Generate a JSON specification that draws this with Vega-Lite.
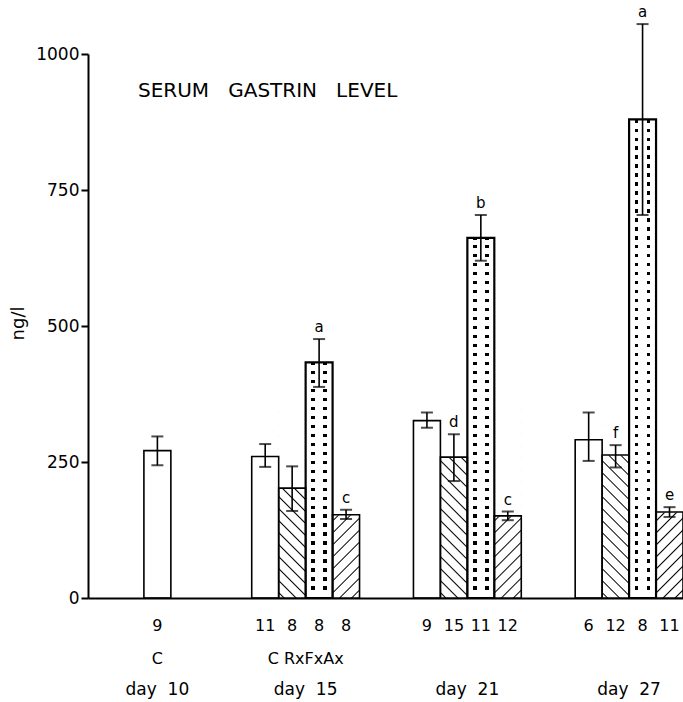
{
"$schema":"https://vega.github.io/schema/vega-lite/v6.json",
"width":595,"height":544,
"autosize":{"type":"none"},
"padding":{"left":88,"top":54,"right":0,"bottom":104},
"background":"white",
"config":{"view":{"stroke":null},"font":"DejaVu Sans","text":{"font":"DejaVu Sans","color":"black"},
"axisY":{"grid":false,"domainColor":"black","domainWidth":2,"tickColor":"black","tickWidth":2,"tickSize":7,"labelFont":"DejaVu Sans","labelFontSize":17,"labelColor":"black","labelPadding":2,"titleFont":"DejaVu Sans","titleFontSize":18,"titleFontWeight":"normal","titleColor":"black","titleAngle":-90,"titleX":-70,"titleY":269,"titleAlign":"center","titleBaseline":"middle"},
"axisX":{"grid":false,"labels":false,"ticks":false,"domainColor":"black","domainWidth":2}},
"title":{"text":"SERUM\u00a0\u00a0\u00a0GASTRIN\u00a0\u00a0\u00a0LEVEL","anchor":"start","frame":"group","orient":"top","offset":0,"dx":50,"dy":106,"fontSize":20,"fontWeight":"normal","font":"DejaVu Sans","color":"black","baseline":"middle"},
"data":{"values":[
{"id":"10C","grp":"C","mean":271,"lo":244,"hi":297,"n":"9","letter":""},
{"id":"15C","grp":"C","mean":260,"lo":241,"hi":283,"n":"11","letter":""},
{"id":"15Rx","grp":"Rx","mean":202,"lo":160,"hi":242,"n":"8","letter":""},
{"id":"15Fx","grp":"Fx","mean":433,"lo":388,"hi":476,"n":"8","letter":"a"},
{"id":"15Ax","grp":"Ax","mean":153,"lo":145,"hi":162,"n":"8","letter":"c"},
{"id":"21C","grp":"C","mean":326,"lo":313,"hi":341,"n":"9","letter":""},
{"id":"21Rx","grp":"Rx","mean":259,"lo":215,"hi":301,"n":"15","letter":"d"},
{"id":"21Fx","grp":"Fx","mean":662,"lo":620,"hi":704,"n":"11","letter":"b"},
{"id":"21Ax","grp":"Ax","mean":151,"lo":143,"hi":159,"n":"12","letter":"c"},
{"id":"27C","grp":"C","mean":291,"lo":252,"hi":341,"n":"6","letter":""},
{"id":"27Rx","grp":"Rx","mean":263,"lo":240,"hi":281,"n":"12","letter":"f"},
{"id":"27Fx","grp":"Fx","mean":880,"lo":704,"hi":1055,"n":"8","letter":"a"},
{"id":"27Ax","grp":"Ax","mean":158,"lo":149,"hi":167,"n":"11","letter":"e"}
]},
"encoding":{"x":{"field":"id","type":"nominal","title":null,
"scale":{"domain":["b0","b1","10C","b3","b4","b5","15C","15Rx","15Fx","15Ax","b10","b11","21C","21Rx","21Fx","21Ax","b16","b17","27C","27Rx","27Fx","27Ax"],"paddingInner":0,"paddingOuter":0.037,"align":1},
"axis":{"title":null,"labels":false,"ticks":false,"grid":false,"domainColor":"black","domainWidth":2}}},
"layer":[
{"mark":{"type":"bar","fillOpacity":0,"strokeWidth":0},
"encoding":{"y":{"field":"mean","type":"quantitative","title":"ng/l","scale":{"domain":[0,1000]},"axis":{"values":[0,250,500,750,1000],"format":"d","title":"ng/l"}}}},
{"transform":[{"filter":"datum.grp === 'Rx'"}],
"mark":{"type":"bar","fill":{"gradient":"linear","x1":0,"y1":1,"x2":0.1584,"y2":-0.1192,"stops":[
{"offset":0.0185,"color":"#fff"},{"offset":0.025,"color":"#000"},{"offset":0.0315,"color":"#fff"},
{"offset":0.0737,"color":"#fff"},{"offset":0.0802,"color":"#000"},{"offset":0.0867,"color":"#fff"},
{"offset":0.1289,"color":"#fff"},{"offset":0.1354,"color":"#000"},{"offset":0.1419,"color":"#fff"},
{"offset":0.1841,"color":"#fff"},{"offset":0.1906,"color":"#000"},{"offset":0.1971,"color":"#fff"},
{"offset":0.2393,"color":"#fff"},{"offset":0.2458,"color":"#000"},{"offset":0.2523,"color":"#fff"},
{"offset":0.2945,"color":"#fff"},{"offset":0.301,"color":"#000"},{"offset":0.3075,"color":"#fff"},
{"offset":0.3497,"color":"#fff"},{"offset":0.3562,"color":"#000"},{"offset":0.3627,"color":"#fff"},
{"offset":0.4049,"color":"#fff"},{"offset":0.4114,"color":"#000"},{"offset":0.4179,"color":"#fff"},
{"offset":0.4601,"color":"#fff"},{"offset":0.4666,"color":"#000"},{"offset":0.4731,"color":"#fff"},
{"offset":0.5153,"color":"#fff"},{"offset":0.5218,"color":"#000"},{"offset":0.5283,"color":"#fff"},
{"offset":0.5705,"color":"#fff"},{"offset":0.577,"color":"#000"},{"offset":0.5835,"color":"#fff"},
{"offset":0.6257,"color":"#fff"},{"offset":0.6322,"color":"#000"},{"offset":0.6387,"color":"#fff"},
{"offset":0.6809,"color":"#fff"},{"offset":0.6874,"color":"#000"},{"offset":0.6939,"color":"#fff"},
{"offset":0.7361,"color":"#fff"},{"offset":0.7426,"color":"#000"},{"offset":0.7491,"color":"#fff"},
{"offset":0.7913,"color":"#fff"},{"offset":0.7978,"color":"#000"},{"offset":0.8043,"color":"#fff"},
{"offset":0.8465,"color":"#fff"},{"offset":0.853,"color":"#000"},{"offset":0.8595,"color":"#fff"},
{"offset":0.9017,"color":"#fff"},{"offset":0.9082,"color":"#000"},{"offset":0.9147,"color":"#fff"},
{"offset":0.9569,"color":"#fff"},{"offset":0.9634,"color":"#000"},{"offset":0.9699,"color":"#fff"}]}},
"encoding":{"y":{"datum":0,"type":"quantitative","title":"ng/l","axis":{"values":[0,250,500,750,1000],"format":"d","title":"ng/l"}},"y2":{"datum":350}}},
{"transform":[{"filter":"datum.grp === 'Ax'"}],
"mark":{"type":"bar","fill":{"gradient":"linear","x1":0,"y1":0,"x2":0.1584,"y2":1.1192,"stops":[
{"offset":0.0185,"color":"#fff"},{"offset":0.025,"color":"#000"},{"offset":0.0315,"color":"#fff"},
{"offset":0.0737,"color":"#fff"},{"offset":0.0802,"color":"#000"},{"offset":0.0867,"color":"#fff"},
{"offset":0.1289,"color":"#fff"},{"offset":0.1354,"color":"#000"},{"offset":0.1419,"color":"#fff"},
{"offset":0.1841,"color":"#fff"},{"offset":0.1906,"color":"#000"},{"offset":0.1971,"color":"#fff"},
{"offset":0.2393,"color":"#fff"},{"offset":0.2458,"color":"#000"},{"offset":0.2523,"color":"#fff"},
{"offset":0.2945,"color":"#fff"},{"offset":0.301,"color":"#000"},{"offset":0.3075,"color":"#fff"},
{"offset":0.3497,"color":"#fff"},{"offset":0.3562,"color":"#000"},{"offset":0.3627,"color":"#fff"},
{"offset":0.4049,"color":"#fff"},{"offset":0.4114,"color":"#000"},{"offset":0.4179,"color":"#fff"},
{"offset":0.4601,"color":"#fff"},{"offset":0.4666,"color":"#000"},{"offset":0.4731,"color":"#fff"},
{"offset":0.5153,"color":"#fff"},{"offset":0.5218,"color":"#000"},{"offset":0.5283,"color":"#fff"},
{"offset":0.5705,"color":"#fff"},{"offset":0.577,"color":"#000"},{"offset":0.5835,"color":"#fff"},
{"offset":0.6257,"color":"#fff"},{"offset":0.6322,"color":"#000"},{"offset":0.6387,"color":"#fff"},
{"offset":0.6809,"color":"#fff"},{"offset":0.6874,"color":"#000"},{"offset":0.6939,"color":"#fff"},
{"offset":0.7361,"color":"#fff"},{"offset":0.7426,"color":"#000"},{"offset":0.7491,"color":"#fff"},
{"offset":0.7913,"color":"#fff"},{"offset":0.7978,"color":"#000"},{"offset":0.8043,"color":"#fff"},
{"offset":0.8465,"color":"#fff"},{"offset":0.853,"color":"#000"},{"offset":0.8595,"color":"#fff"},
{"offset":0.9017,"color":"#fff"},{"offset":0.9082,"color":"#000"},{"offset":0.9147,"color":"#fff"},
{"offset":0.9569,"color":"#fff"},{"offset":0.9634,"color":"#000"},{"offset":0.9699,"color":"#fff"}]}},
"encoding":{"y":{"datum":0,"type":"quantitative","title":"ng/l","axis":{"values":[0,250,500,750,1000],"format":"d","title":"ng/l"}},"y2":{"datum":350}}},
{"transform":[{"filter":"datum.grp === 'Fx'"}],
"mark":{"type":"bar","fill":{"gradient":"linear","x1":0,"y1":0,"x2":0,"y2":1,"stops":[
{"offset":0.005,"color":"#fff"},{"offset":0.005,"color":"#000"},{"offset":0.011,"color":"#000"},{"offset":0.011,"color":"#fff"},
{"offset":0.0215,"color":"#fff"},{"offset":0.0215,"color":"#000"},{"offset":0.0275,"color":"#000"},{"offset":0.0275,"color":"#fff"},
{"offset":0.038,"color":"#fff"},{"offset":0.038,"color":"#000"},{"offset":0.044,"color":"#000"},{"offset":0.044,"color":"#fff"},
{"offset":0.0545,"color":"#fff"},{"offset":0.0545,"color":"#000"},{"offset":0.0605,"color":"#000"},{"offset":0.0605,"color":"#fff"},
{"offset":0.071,"color":"#fff"},{"offset":0.071,"color":"#000"},{"offset":0.077,"color":"#000"},{"offset":0.077,"color":"#fff"},
{"offset":0.0875,"color":"#fff"},{"offset":0.0875,"color":"#000"},{"offset":0.0935,"color":"#000"},{"offset":0.0935,"color":"#fff"},
{"offset":0.104,"color":"#fff"},{"offset":0.104,"color":"#000"},{"offset":0.11,"color":"#000"},{"offset":0.11,"color":"#fff"},
{"offset":0.1205,"color":"#fff"},{"offset":0.1205,"color":"#000"},{"offset":0.1265,"color":"#000"},{"offset":0.1265,"color":"#fff"},
{"offset":0.137,"color":"#fff"},{"offset":0.137,"color":"#000"},{"offset":0.143,"color":"#000"},{"offset":0.143,"color":"#fff"},
{"offset":0.1535,"color":"#fff"},{"offset":0.1535,"color":"#000"},{"offset":0.1595,"color":"#000"},{"offset":0.1595,"color":"#fff"},
{"offset":0.17,"color":"#fff"},{"offset":0.17,"color":"#000"},{"offset":0.176,"color":"#000"},{"offset":0.176,"color":"#fff"},
{"offset":0.1865,"color":"#fff"},{"offset":0.1865,"color":"#000"},{"offset":0.1925,"color":"#000"},{"offset":0.1925,"color":"#fff"},
{"offset":0.203,"color":"#fff"},{"offset":0.203,"color":"#000"},{"offset":0.209,"color":"#000"},{"offset":0.209,"color":"#fff"},
{"offset":0.2195,"color":"#fff"},{"offset":0.2195,"color":"#000"},{"offset":0.2255,"color":"#000"},{"offset":0.2255,"color":"#fff"},
{"offset":0.236,"color":"#fff"},{"offset":0.236,"color":"#000"},{"offset":0.242,"color":"#000"},{"offset":0.242,"color":"#fff"},
{"offset":0.2525,"color":"#fff"},{"offset":0.2525,"color":"#000"},{"offset":0.2585,"color":"#000"},{"offset":0.2585,"color":"#fff"},
{"offset":0.269,"color":"#fff"},{"offset":0.269,"color":"#000"},{"offset":0.275,"color":"#000"},{"offset":0.275,"color":"#fff"},
{"offset":0.2855,"color":"#fff"},{"offset":0.2855,"color":"#000"},{"offset":0.2915,"color":"#000"},{"offset":0.2915,"color":"#fff"},
{"offset":0.302,"color":"#fff"},{"offset":0.302,"color":"#000"},{"offset":0.308,"color":"#000"},{"offset":0.308,"color":"#fff"},
{"offset":0.3185,"color":"#fff"},{"offset":0.3185,"color":"#000"},{"offset":0.3245,"color":"#000"},{"offset":0.3245,"color":"#fff"},
{"offset":0.335,"color":"#fff"},{"offset":0.335,"color":"#000"},{"offset":0.341,"color":"#000"},{"offset":0.341,"color":"#fff"},
{"offset":0.3515,"color":"#fff"},{"offset":0.3515,"color":"#000"},{"offset":0.3575,"color":"#000"},{"offset":0.3575,"color":"#fff"},
{"offset":0.368,"color":"#fff"},{"offset":0.368,"color":"#000"},{"offset":0.374,"color":"#000"},{"offset":0.374,"color":"#fff"},
{"offset":0.3845,"color":"#fff"},{"offset":0.3845,"color":"#000"},{"offset":0.3905,"color":"#000"},{"offset":0.3905,"color":"#fff"},
{"offset":0.401,"color":"#fff"},{"offset":0.401,"color":"#000"},{"offset":0.407,"color":"#000"},{"offset":0.407,"color":"#fff"},
{"offset":0.4175,"color":"#fff"},{"offset":0.4175,"color":"#000"},{"offset":0.4235,"color":"#000"},{"offset":0.4235,"color":"#fff"},
{"offset":0.434,"color":"#fff"},{"offset":0.434,"color":"#000"},{"offset":0.44,"color":"#000"},{"offset":0.44,"color":"#fff"},
{"offset":0.4505,"color":"#fff"},{"offset":0.4505,"color":"#000"},{"offset":0.4565,"color":"#000"},{"offset":0.4565,"color":"#fff"},
{"offset":0.467,"color":"#fff"},{"offset":0.467,"color":"#000"},{"offset":0.473,"color":"#000"},{"offset":0.473,"color":"#fff"},
{"offset":0.4835,"color":"#fff"},{"offset":0.4835,"color":"#000"},{"offset":0.4895,"color":"#000"},{"offset":0.4895,"color":"#fff"},
{"offset":0.5,"color":"#fff"},{"offset":0.5,"color":"#000"},{"offset":0.506,"color":"#000"},{"offset":0.506,"color":"#fff"},
{"offset":0.5165,"color":"#fff"},{"offset":0.5165,"color":"#000"},{"offset":0.5225,"color":"#000"},{"offset":0.5225,"color":"#fff"},
{"offset":0.533,"color":"#fff"},{"offset":0.533,"color":"#000"},{"offset":0.539,"color":"#000"},{"offset":0.539,"color":"#fff"},
{"offset":0.5495,"color":"#fff"},{"offset":0.5495,"color":"#000"},{"offset":0.5555,"color":"#000"},{"offset":0.5555,"color":"#fff"},
{"offset":0.566,"color":"#fff"},{"offset":0.566,"color":"#000"},{"offset":0.572,"color":"#000"},{"offset":0.572,"color":"#fff"},
{"offset":0.5825,"color":"#fff"},{"offset":0.5825,"color":"#000"},{"offset":0.5885,"color":"#000"},{"offset":0.5885,"color":"#fff"},
{"offset":0.599,"color":"#fff"},{"offset":0.599,"color":"#000"},{"offset":0.605,"color":"#000"},{"offset":0.605,"color":"#fff"},
{"offset":0.6155,"color":"#fff"},{"offset":0.6155,"color":"#000"},{"offset":0.6215,"color":"#000"},{"offset":0.6215,"color":"#fff"},
{"offset":0.632,"color":"#fff"},{"offset":0.632,"color":"#000"},{"offset":0.638,"color":"#000"},{"offset":0.638,"color":"#fff"},
{"offset":0.6485,"color":"#fff"},{"offset":0.6485,"color":"#000"},{"offset":0.6545,"color":"#000"},{"offset":0.6545,"color":"#fff"},
{"offset":0.665,"color":"#fff"},{"offset":0.665,"color":"#000"},{"offset":0.671,"color":"#000"},{"offset":0.671,"color":"#fff"},
{"offset":0.6815,"color":"#fff"},{"offset":0.6815,"color":"#000"},{"offset":0.6875,"color":"#000"},{"offset":0.6875,"color":"#fff"},
{"offset":0.698,"color":"#fff"},{"offset":0.698,"color":"#000"},{"offset":0.704,"color":"#000"},{"offset":0.704,"color":"#fff"},
{"offset":0.7145,"color":"#fff"},{"offset":0.7145,"color":"#000"},{"offset":0.7205,"color":"#000"},{"offset":0.7205,"color":"#fff"},
{"offset":0.731,"color":"#fff"},{"offset":0.731,"color":"#000"},{"offset":0.737,"color":"#000"},{"offset":0.737,"color":"#fff"},
{"offset":0.7475,"color":"#fff"},{"offset":0.7475,"color":"#000"},{"offset":0.7535,"color":"#000"},{"offset":0.7535,"color":"#fff"},
{"offset":0.764,"color":"#fff"},{"offset":0.764,"color":"#000"},{"offset":0.77,"color":"#000"},{"offset":0.77,"color":"#fff"},
{"offset":0.7805,"color":"#fff"},{"offset":0.7805,"color":"#000"},{"offset":0.7865,"color":"#000"},{"offset":0.7865,"color":"#fff"},
{"offset":0.797,"color":"#fff"},{"offset":0.797,"color":"#000"},{"offset":0.803,"color":"#000"},{"offset":0.803,"color":"#fff"},
{"offset":0.8135,"color":"#fff"},{"offset":0.8135,"color":"#000"},{"offset":0.8195,"color":"#000"},{"offset":0.8195,"color":"#fff"},
{"offset":0.83,"color":"#fff"},{"offset":0.83,"color":"#000"},{"offset":0.836,"color":"#000"},{"offset":0.836,"color":"#fff"},
{"offset":0.8465,"color":"#fff"},{"offset":0.8465,"color":"#000"},{"offset":0.8525,"color":"#000"},{"offset":0.8525,"color":"#fff"},
{"offset":0.863,"color":"#fff"},{"offset":0.863,"color":"#000"},{"offset":0.869,"color":"#000"},{"offset":0.869,"color":"#fff"},
{"offset":0.8795,"color":"#fff"},{"offset":0.8795,"color":"#000"},{"offset":0.8855,"color":"#000"},{"offset":0.8855,"color":"#fff"},
{"offset":0.896,"color":"#fff"},{"offset":0.896,"color":"#000"},{"offset":0.902,"color":"#000"},{"offset":0.902,"color":"#fff"},
{"offset":0.9125,"color":"#fff"},{"offset":0.9125,"color":"#000"},{"offset":0.9185,"color":"#000"},{"offset":0.9185,"color":"#fff"},
{"offset":0.929,"color":"#fff"},{"offset":0.929,"color":"#000"},{"offset":0.935,"color":"#000"},{"offset":0.935,"color":"#fff"},
{"offset":0.9455,"color":"#fff"},{"offset":0.9455,"color":"#000"},{"offset":0.9515,"color":"#000"},{"offset":0.9515,"color":"#fff"},
{"offset":0.962,"color":"#fff"},{"offset":0.962,"color":"#000"},{"offset":0.968,"color":"#000"},{"offset":0.968,"color":"#fff"},
{"offset":0.9785,"color":"#fff"},{"offset":0.9785,"color":"#000"},{"offset":0.9845,"color":"#000"},{"offset":0.9845,"color":"#fff"}]}},
"encoding":{"y":{"datum":0,"type":"quantitative","title":"ng/l","axis":{"values":[0,250,500,750,1000],"format":"d","title":"ng/l"}},"y2":{"datum":1000}}},
{"transform":[{"filter":"datum.grp === 'Fx'"}],
"mark":{"type":"bar","fill":{"gradient":"linear","x1":0,"y1":0,"x2":1,"y2":0,"stops":[
{"offset":0,"color":"#fff"},{"offset":0.21,"color":"#fff"},{"offset":0.21,"color":"rgba(255,255,255,0)"},{"offset":0.34,"color":"rgba(255,255,255,0)"},{"offset":0.34,"color":"#fff"},
{"offset":0.66,"color":"#fff"},{"offset":0.66,"color":"rgba(255,255,255,0)"},{"offset":0.79,"color":"rgba(255,255,255,0)"},{"offset":0.79,"color":"#fff"},{"offset":1,"color":"#fff"}]}},
"encoding":{"y":{"datum":0,"type":"quantitative","title":"ng/l","axis":{"values":[0,250,500,750,1000],"format":"d","title":"ng/l"}},"y2":{"datum":1000}}},
{"transform":[{"filter":"datum.grp !== 'C'"}],
"mark":{"type":"bar","fill":"white","stroke":"white","strokeWidth":1},
"encoding":{"y":{"field":"mean","type":"quantitative","title":"ng/l","axis":{"values":[0,250,500,750,1000],"format":"d","title":"ng/l"}},"y2":{"datum":1000}}},
{"mark":{"type":"bar","fillOpacity":0,"stroke":"black"},
"encoding":{"y":{"field":"mean","type":"quantitative","title":"ng/l","axis":{"values":[0,250,500,750,1000],"format":"d","title":"ng/l"}},
"strokeWidth":{"condition":{"test":"datum.grp === 'Fx'","value":2.2},"value":1.6}}},
{"mark":{"type":"rule","color":"black","strokeWidth":1.6},
"encoding":{"y":{"field":"lo","type":"quantitative","title":"ng/l","axis":{"values":[0,250,500,750,1000],"format":"d","title":"ng/l"}},"y2":{"field":"hi"}}},
{"mark":{"type":"tick","color":"black","size":12,"thickness":2},
"encoding":{"y":{"field":"lo","type":"quantitative","title":"ng/l","axis":{"values":[0,250,500,750,1000],"format":"d","title":"ng/l"}}}},
{"mark":{"type":"tick","color":"black","size":12,"thickness":2},
"encoding":{"y":{"field":"hi","type":"quantitative","title":"ng/l","axis":{"values":[0,250,500,750,1000],"format":"d","title":"ng/l"}}}},
{"transform":[{"filter":"datum.letter !== ''"}],
"mark":{"type":"text","dy":-7,"baseline":"alphabetic","fontSize":15,"font":"DejaVu Sans","color":"black"},
"encoding":{"y":{"field":"hi","type":"quantitative","title":"ng/l","axis":{"values":[0,250,500,750,1000],"format":"d","title":"ng/l"}},"text":{"field":"letter"}}},
{"mark":{"type":"text","dy":28,"baseline":"middle","fontSize":16,"font":"DejaVu Sans","color":"black"},
"encoding":{"y":{"datum":0,"type":"quantitative","title":"ng/l","axis":{"values":[0,250,500,750,1000],"format":"d","title":"ng/l"}},"text":{"field":"n"}}},
{"data":{"values":[{"id":"10C","t":"C"}]},
"mark":{"type":"text","dy":61,"baseline":"middle","fontSize":16,"font":"DejaVu Sans","color":"black"},
"encoding":{"y":{"datum":0,"type":"quantitative","title":"ng/l","axis":{"values":[0,250,500,750,1000],"format":"d","title":"ng/l"}},"text":{"field":"t"}}},
{"data":{"values":[{"id":"15Fx","t":"C RxFxAx"}]},
"mark":{"type":"text","dy":61,"baseline":"middle","fontSize":16,"font":"DejaVu Sans","color":"black"},
"encoding":{"x":{"field":"id","type":"nominal","bandPosition":0,"title":null,"scale":{"domain":["b0","b1","10C","b3","b4","b5","15C","15Rx","15Fx","15Ax","b10","b11","21C","21Rx","21Fx","21Ax","b16","b17","27C","27Rx","27Fx","27Ax"],"paddingInner":0,"paddingOuter":0.037,"align":1},"axis":{"title":null,"labels":false,"ticks":false,"grid":false,"domainColor":"black","domainWidth":2}},
"y":{"datum":0,"type":"quantitative","title":"ng/l","axis":{"values":[0,250,500,750,1000],"format":"d","title":"ng/l"}},"text":{"field":"t"}}},
{"data":{"values":[{"id":"10C","t":"day\u00a0\u00a010"}]},
"mark":{"type":"text","dy":92,"baseline":"middle","fontSize":17,"font":"DejaVu Sans","color":"black"},
"encoding":{"y":{"datum":0,"type":"quantitative","title":"ng/l","axis":{"values":[0,250,500,750,1000],"format":"d","title":"ng/l"}},"text":{"field":"t"}}},
{"data":{"values":[{"id":"15Fx","t":"day\u00a0\u00a015"},{"id":"21Fx","t":"day\u00a0\u00a021"},{"id":"27Fx","t":"day\u00a0\u00a027"}]},
"mark":{"type":"text","dy":92,"baseline":"middle","fontSize":17,"font":"DejaVu Sans","color":"black"},
"encoding":{"x":{"field":"id","type":"nominal","bandPosition":0,"title":null,"scale":{"domain":["b0","b1","10C","b3","b4","b5","15C","15Rx","15Fx","15Ax","b10","b11","21C","21Rx","21Fx","21Ax","b16","b17","27C","27Rx","27Fx","27Ax"],"paddingInner":0,"paddingOuter":0.037,"align":1},"axis":{"title":null,"labels":false,"ticks":false,"grid":false,"domainColor":"black","domainWidth":2}},
"y":{"datum":0,"type":"quantitative","title":"ng/l","axis":{"values":[0,250,500,750,1000],"format":"d","title":"ng/l"}},"text":{"field":"t"}}}
]
}
